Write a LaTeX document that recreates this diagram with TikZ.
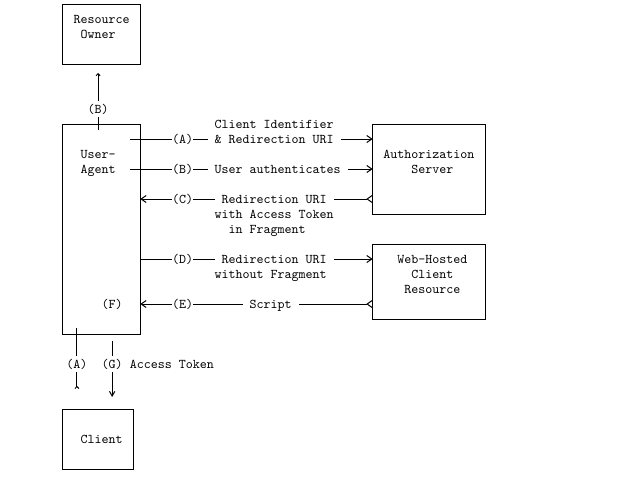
\documentclass[tikz,border=0pt]{standalone}
\usetikzlibrary{arrows.meta,calc}
\begin{document}
\begin{tikzpicture}[x=5.28pt,y=-11.25pt,
  line width=0.75pt,
  txt/.style={font=\ttfamily\fontsize{10}{12}\selectfont, inner sep=0pt, text height=8pt, text depth=1.9pt},
  lab/.style={txt, fill=white, inner ysep=1pt},
  lablong/.style={lab, inner xsep=5.28pt},
  box/.style={draw, inner sep=0pt, outer sep=0pt},
  arr/.style={-{Straight Barb[length=3.75pt,width=5.25pt]}},
  arrback/.style={{Straight Barb[reversed,length=3.75pt,width=5.25pt]}-{Straight Barb[length=3.75pt,width=5.25pt]}},
  upcaret/.style={-{Straight Barb[length=1.5pt,width=3pt]}},
  tailcaret/.style={{Straight Barb[reversed,length=1.5pt,width=3pt]}-},
  vdown/.style={-{Straight Barb[length=3.5pt,width=4pt]}}
]
\useasboundingbox (-3.93,-0.267) rectangle (85.13,31.73);

% boxes
\node[box, minimum width=58.08pt, minimum height=45pt] (ro) at (10.5,2) {};
\node[box, minimum width=58.08pt, minimum height=157.5pt] (ua) at (10.5,15) {};
\node[box, minimum width=84.48pt, minimum height=67.5pt] (as) at (57,11) {};
\node[box, minimum width=84.48pt, minimum height=56.25pt] (wh) at (57,18.5) {};
\node[box, minimum width=52.8pt, minimum height=45pt] (cl) at (10,29) {};

% texts inside boxes
\node[txt] (ro1) at (10.5,1) {Resource};
\node[txt] (ro2) at (10,2) {Owner};
\node[txt] (ua1) at (10,10) {User-};
\node[txt] (ua2) at (10,11) {Agent};
\node[txt] (uaF) at (12,20) {(F)};
\node[txt] (as1) at (57,10) {Authorization};
\node[txt] (as2) at (57.5,11) {Server};
\node[txt] (wh1) at (57.5,17) {Web-Hosted};
\node[txt] (wh2) at (57.5,18) {Client};
\node[txt] (wh3) at (57.5,19) {Resource};
\node[txt] (cl1) at (10.5,29) {Client};

% helper coordinates
\coordinate (r9) at (0,9);
\coordinate (r11) at (0,11);
\coordinate (r13) at (0,13);
\coordinate (r17) at (0,17);
\coordinate (r20) at (0,20);
\coordinate (k7) at (7,0);
\coordinate (k10) at (10,0);
\coordinate (k12) at (12,0);

% connectors
\draw[upcaret, shorten <=-4.5pt, shorten >=6.75pt] (ua.north -| k10) -- (ro.south -| k10);
\draw[arr] ($(ua.east |- r9)+(-1.5,0)$) -- (as.west |- r9);
\draw[arr] ($(ua.east |- r11)+(-1.5,0)$) -- (as.west |- r11);
\draw[arrback] (as.west |- r13) -- (ua.east |- r13);
\draw[arr] (ua.east |- r17) -- (wh.west |- r17);
\draw[arrback] (wh.west |- r20) -- (ua.east |- r20);
\draw[tailcaret, shorten <=15pt, shorten >=-4.5pt] (cl.north -| k7) -- (ua.south -| k7);
\draw[vdown, shorten <=5.6pt, shorten >=9pt] (ua.south -| k12) -- (cl.north -| k12);

% labels
\node[lab] (lB0) at (10,7) {(B)};
\node[txt] (t8) at (35,8) {Client Identifier};
\node[lab] (lA) at (22,9) {(A)};
\node[lablong] (t9) at (35,9) {\& Redirection URI};
\node[lab] (lB) at (22,11) {(B)};
\node[lablong] (t11) at (35.5,11) {User authenticates};
\node[lab] (lC) at (22,13) {(C)};
\node[lablong] (t13) at (35,13) {Redirection URI};
\node[txt] (t14) at (35,14) {with Access Token};
\node[txt] (t15) at (34,15) {in Fragment};
\node[lab] (lD) at (22,17) {(D)};
\node[lablong] (t17) at (35,17) {Redirection URI};
\node[txt] (t18) at (34.5,18) {without Fragment};
\node[lab] (lE) at (22,20) {(E)};
\node[lablong] (t20) at (34.5,20) {Script};
\node[lab] (lA2) at (7,24) {(A)};
\node[lab] (lG) at (12,24) {(G)};
\node[txt] (t24) at (20.5,24) {Access Token};
\end{tikzpicture}
\end{document}
